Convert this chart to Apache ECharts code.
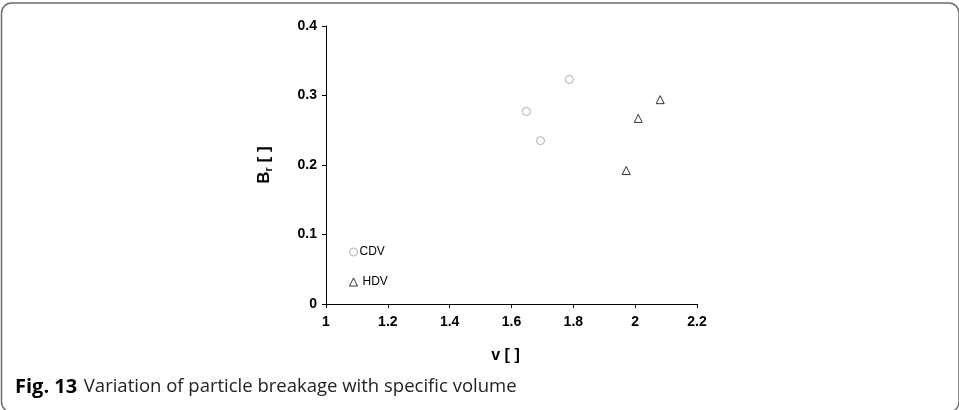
<!DOCTYPE html>
<html>
<head>
<meta charset="utf-8">
<script src="https://cdn.jsdelivr.net/npm/echarts@6/dist/echarts.min.js"></script>
<style>
  html, body { margin: 0; padding: 0; background: #fff; }
  #chart { width: 959px; height: 410px; }
</style>
</head>
<body>
<div id="chart"></div>
<script>
// Specific volume v and particle breakage Br for each test group
const cdvV  = [1.648, 1.694, 1.787];
const cdvBr = [0.277, 0.235, 0.323];
const hdvV  = [1.971, 2.010, 2.081];
const hdvBr = [0.192, 0.267, 0.294];

const xTicks = [1, 1.2, 1.4, 1.6, 1.8, 2, 2.2];
const yTicks = [0, 0.1, 0.2, 0.3, 0.4];

const seriesNames = ['CDV', 'HDV'];
const captionBold = 'Fig. 13';
const captionText = 'Variation of particle breakage with specific volume';

function pairs(xs, ys) { return xs.map((x, i) => [x, ys[i]]); }

const chart = echarts.init(document.getElementById('chart'), null, { renderer: 'canvas' });

const sans = 'Liberation Sans, Arial, sans-serif';
const tickFont = { fontFamily: sans, fontWeight: 'bold', fontSize: 14, color: '#000' };

chart.setOption({
  animation: false,
  backgroundColor: '#fff',
  grid: { left: 326, right: 262, top: 26, bottom: 106, containLabel: false },
  xAxis: {
    type: 'value',
    min: xTicks[0], max: xTicks[xTicks.length - 1], interval: 0.2,
    name: 'v [ ]', nameLocation: 'middle', nameGap: 44,
    nameTextStyle: { fontFamily: sans, fontWeight: 'bold', fontSize: 16, color: '#000', padding: [0, 12, 0, 0] },
    axisLine: { show: true, lineStyle: { color: '#000', width: 1 } },
    axisTick: { show: true, inside: false, length: 4, lineStyle: { color: '#000' } },
    axisLabel: Object.assign({ margin: 11, formatter: v => String(+v.toFixed(1)) }, tickFont),
    splitLine: { show: false }
  },
  yAxis: {
    type: 'value',
    min: yTicks[0], max: yTicks[yTicks.length - 1], interval: 0.1,
    name: '{b|B}{s|r}{b| [ ]}', nameLocation: 'middle', nameGap: 52, nameRotate: 90,
    nameTextStyle: {
      rich: {
        b: { fontFamily: sans, fontWeight: 'bold', fontSize: 17, color: '#000' },
        s: { fontFamily: sans, fontWeight: 'bold', fontSize: 11, color: '#000', verticalAlign: 'bottom', padding: [8, 0, 0, 0] }
      }
    },
    axisLine: { show: true, lineStyle: { color: '#000', width: 1 } },
    axisTick: { show: true, inside: false, length: 4, lineStyle: { color: '#000' } },
    axisLabel: Object.assign({ margin: 9, formatter: v => String(+v.toFixed(1)) }, tickFont),
    splitLine: { show: false }
  },
  legend: {
    orient: 'vertical', left: 344, top: 241,
    itemWidth: 8, itemHeight: 8, itemGap: 18,
    itemStyle: { borderWidth: 1 },
    textStyle: { fontFamily: sans, fontSize: 12, color: '#000', padding: [0, 0, 0, -3] },
    data: [
      { name: seriesNames[0], icon: 'circle' },
      { name: seriesNames[1], icon: 'triangle', textStyle: { padding: [0, 0, 0, 0] } }
    ]
  },
  series: [
    {
      name: seriesNames[0], type: 'scatter', symbol: 'circle', symbolSize: 8,
      itemStyle: { color: '#fff', borderColor: '#9a9a9a', borderWidth: 1 },
      data: pairs(cdvV, cdvBr)
    },
    {
      name: seriesNames[1], type: 'scatter', symbol: 'triangle', symbolSize: 8,
      itemStyle: { color: '#fff', borderColor: '#000', borderWidth: 1 },
      data: pairs(hdvV, hdvBr)
    }
  ],
  graphic: [
    {
      type: 'rect', silent: true,
      shape: { x: 1.5, y: 3, width: 957.5, height: 409, r: 10 },
      style: { fill: null, stroke: '#6e6e6e', lineWidth: 1.5 }
    },
    {
      type: 'text', left: 15, top: 377,
      style: {
        text: '{b|' + captionBold + '}  {n|' + captionText + '}',
        rich: {
          b: { fontFamily: 'Open Sans, sans-serif', fontWeight: 'bold', fontSize: 20, fill: '#000' },
          n: { fontFamily: 'Open Sans, sans-serif', fontSize: 18.5, fill: '#222' }
        }
      }
    }
  ]
});
</script>
</body>
</html>
